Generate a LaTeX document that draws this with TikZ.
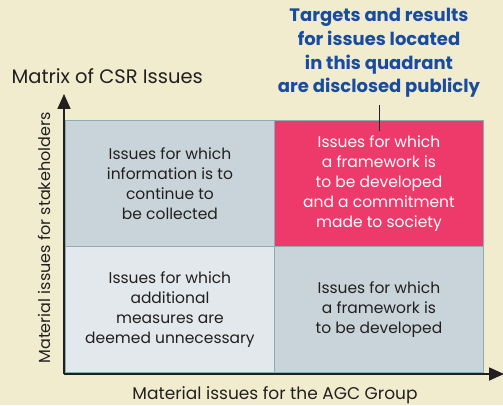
\documentclass[tikz,border=0pt]{standalone}
\usepackage{fontspec}
\setmainfont{Poppins}
\usetikzlibrary{arrows.meta, positioning}
\definecolor{creambg}{RGB}{242, 236, 207}
\definecolor{cellgray}{RGB}{200, 212, 217}
\definecolor{celllight}{RGB}{226, 232, 235}
\definecolor{cellpink}{RGB}{238, 58, 106}
\definecolor{cellline}{RGB}{140, 172, 184}
\definecolor{titleblue}{RGB}{24, 76, 160}
\definecolor{axisdark}{RGB}{35, 31, 32}
\tikzset{
  quad/.style={draw=cellline, line width=0.9pt, minimum width=209pt, minimum height=126pt,
    align=center, font=\fontsize{15.5}{20}\selectfont, text=axisdark, inner sep=0pt},
  axisline/.style={draw=axisdark, line width=1.8pt, -{Triangle[length=15pt,width=13pt]}}
}

\begin{document}
\begin{tikzpicture}[x=1pt, y=1pt]
  % Background
  \fill[creambg] (0,0) rectangle (503,405);
  \useasboundingbox (0,0) rectangle (503,405);

  % Quadrants
  \node[quad, fill=cellgray, anchor=south west] (tl) at (65,158) {Issues for which\\information is to\\continue to\\be collected};
  \node[quad, fill=cellpink, text=white, anchor=south west] (tr) at (274,158) {Issues for which\\a framework is\\to be developed\\and a commitment\\made to society};
  \node[quad, fill=celllight, anchor=south west] (bl) at (65,32) {Issues for which\\additional\\measures are\\deemed unnecessary};
  \node[quad, fill=cellgray, anchor=south west] (br) at (274,32) {Issues for which\\a framework is\\to be developed};

  % Axes
  \coordinate (origin) at (64,31);
  \coordinate (ytip) at (64,311);
  \coordinate (xtip) at (504,31);
  \draw[axisline] (origin) -- (ytip);
  \draw[axisline] (origin) -- (xtip);

  % Labels
  \node[anchor=west, font=\fontsize{19.5}{22}\selectfont, text=axisdark] (matrix) at (8,329) {Matrix of CSR Issues};
  \node[rotate=90, font=\fontsize{16}{18}\selectfont, text=axisdark] (ylabel) at (44,167) {Material issues for stakeholders};
  \node[font=\fontsize{17}{18}\selectfont, text=axisdark] (xlabel) at (275,10) {Material issues for the AGC Group};

  % Callout
  \node[align=center, font=\bfseries\fontsize{18}{23.8}\selectfont, text=titleblue] (callout) at (379,352) {Targets and results\\for issues located\\in this quadrant\\are disclosed publicly};
  \coordinate (pin) at (379,274);
  \draw[axisdark, line width=0.8pt] (callout.south) ++(0,-4) -- (pin);
\end{tikzpicture}
\end{document}
